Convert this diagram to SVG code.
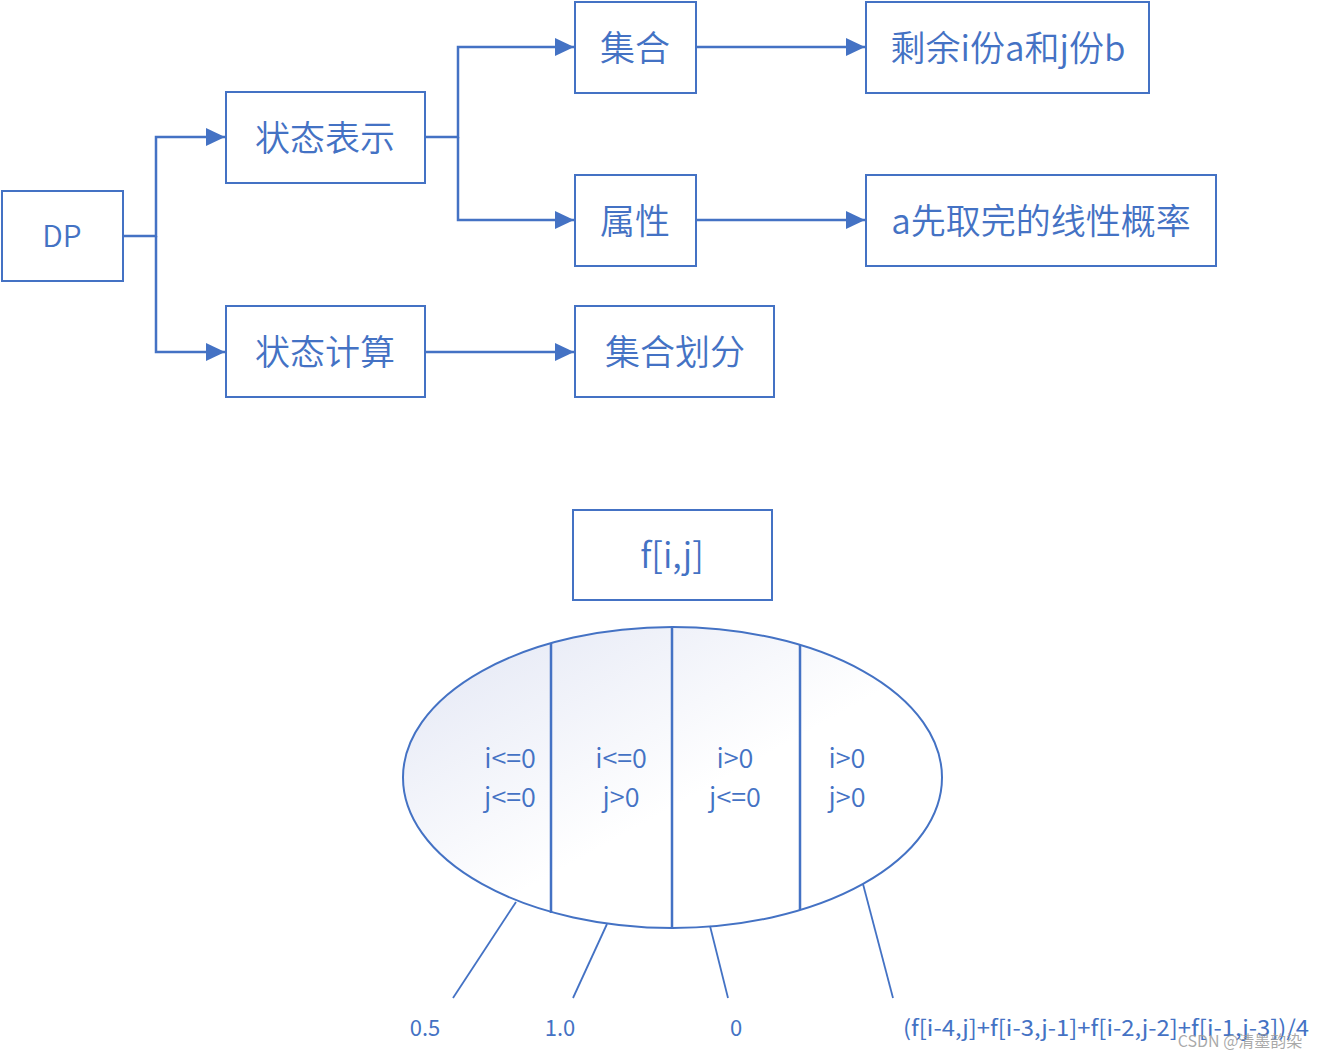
<svg xmlns="http://www.w3.org/2000/svg" width="1324" height="1058" viewBox="0 0 1324 1058">
<style>
.box{fill:#fff;stroke:#4472c4;stroke-width:2}
.t{font-family:"Noto Sans CJK SC","Noto Sans",sans-serif;fill:#4472c4;text-anchor:middle;dominant-baseline:central;font-weight:350}
.big{font-size:35px}
.mid{font-size:27px}
.sm{font-size:22px;font-weight:400}
.c{fill:none;stroke:#4472c4;stroke-width:2.5}
.l{fill:none;stroke:#4472c4;stroke-width:1.8}
</style>
<defs>
<marker id="arr" markerUnits="userSpaceOnUse" markerWidth="20" markerHeight="18" refX="19" refY="9" orient="auto">
<path d="M0,0 L19,9 L0,18 Z" fill="#4472c4"/>
</marker>
<linearGradient id="g" x1="0" y1="0" x2="1" y2="1">
<stop offset="0" stop-color="#e2e6f4"/>
<stop offset="0.55" stop-color="#ffffff"/>
<stop offset="1" stop-color="#ffffff"/>
</linearGradient>
</defs>
<g id="connectors">
<path class="c" d="M123,236 H156 V137 H225" marker-end="url(#arr)"/>
<path class="c" d="M156,236 V352 H225" marker-end="url(#arr)"/>
<path class="c" d="M425,137 H458 V47 H574" marker-end="url(#arr)"/>
<path class="c" d="M458,137 V220 H574" marker-end="url(#arr)"/>
<path class="c" d="M425,352 H574" marker-end="url(#arr)"/>
<path class="c" d="M696,47 H865" marker-end="url(#arr)"/>
<path class="c" d="M696,220 H865" marker-end="url(#arr)"/>
</g>
<g id="n-dp"><rect class="box" x="2" y="191" width="121" height="90"/><text class="t" x="62" y="234" style="font-size:30px">DP</text></g>
<g id="n-repr"><rect class="box" x="226" y="92" width="199" height="91"/><text class="t big" x="325" y="135">状态表示</text></g>
<g id="n-calc"><rect class="box" x="226" y="306" width="199" height="91"/><text class="t big" x="325" y="349">状态计算</text></g>
<g id="n-set"><rect class="box" x="575" y="2" width="121" height="91"/><text class="t big" x="635" y="45">集合</text></g>
<g id="n-attr"><rect class="box" x="575" y="175" width="121" height="91"/><text class="t big" x="635" y="218">属性</text></g>
<g id="n-part"><rect class="box" x="575" y="306" width="199" height="91"/><text class="t big" x="675" y="349">集合划分</text></g>
<g id="n-rem"><rect class="box" x="866" y="2" width="283" height="91"/><text class="t big" x="1008" y="45">剩余i份a和j份b</text></g>
<g id="n-prob"><rect class="box" x="866" y="175" width="350" height="91"/><text class="t big" x="1041" y="218">a先取完的线性概率</text></g>
<g id="n-f"><rect class="box" x="573" y="510" width="199" height="90"/><text class="t big" x="672" y="552">f[i,j]</text></g>
<g id="n-ellipse">
<ellipse cx="672.5" cy="777.5" rx="269.5" ry="150.5" fill="url(#g)" stroke="#4472c4" stroke-width="2"/>
<line class="c" x1="551" y1="643" x2="551" y2="913"/>
<line class="c" x1="672" y1="627" x2="672" y2="928"/>
<line class="c" x1="800" y1="645" x2="800" y2="910"/>
<text class="t mid" x="510" y="756">i&lt;=0</text>
<text class="t mid" x="510" y="795">j&lt;=0</text>
<text class="t mid" x="621" y="756">i&lt;=0</text>
<text class="t mid" x="621" y="795">j&gt;0</text>
<text class="t mid" x="735" y="756">i&gt;0</text>
<text class="t mid" x="735" y="795">j&lt;=0</text>
<text class="t mid" x="847" y="756">i&gt;0</text>
<text class="t mid" x="847" y="795">j&gt;0</text>
</g>
<g id="leaders">
<line class="l" x1="516" y1="902" x2="453" y2="998"/>
<line class="l" x1="607" y1="924" x2="573" y2="998"/>
<line class="l" x1="710" y1="926" x2="728" y2="998"/>
<line class="l" x1="863" y1="884" x2="893" y2="998"/>
</g>
<g id="labels">
<text class="t sm" x="425" y="1026">0.5</text>
<text class="t sm" x="560" y="1026">1.0</text>
<text class="t sm" x="736" y="1026">0</text>
<text class="t sm" x="1106" y="1026" textLength="406" lengthAdjust="spacingAndGlyphs">(f[i-4,j]+f[i-3,j-1]+f[i-2,j-2]+f[i-1,j-3])/4</text>
</g>
<text x="1240" y="1040" style="font-family:'Noto Sans CJK SC','Noto Sans',sans-serif;font-size:16px;fill:#9a9a9a;fill-opacity:0.85;text-anchor:middle;dominant-baseline:central">CSDN @清墨韵染</text>
</svg>
